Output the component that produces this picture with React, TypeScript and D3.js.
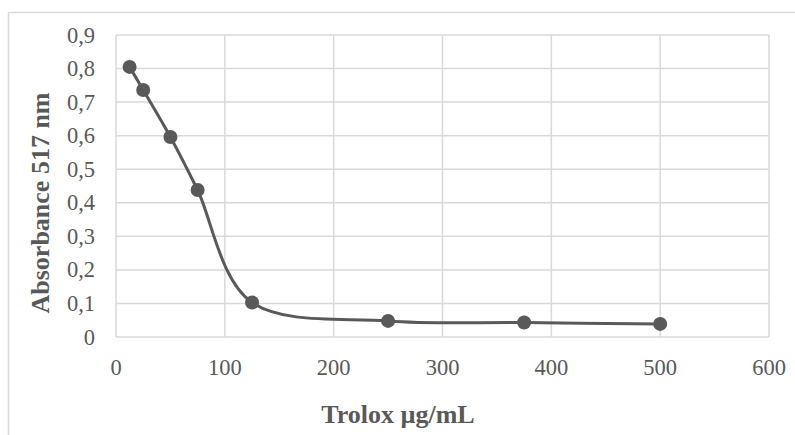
import React from "react";
import * as d3 from "d3";

const concentrations = [12.5, 25, 50, 75, 125, 250, 375, 500];
const absorbance = [0.805, 0.736, 0.596, 0.438, 0.103, 0.048, 0.043, 0.039];
const xTicks = [0, 100, 200, 300, 400, 500, 600];
const yTicks = [0, 0.1, 0.2, 0.3, 0.4, 0.5, 0.6, 0.7, 0.8, 0.9];
const xTitle = "Trolox µg/mL";
const yTitle = "Absorbance 517 nm";

const W = 795;
const H = 435;
const left = 116;
const right = 769;
const top = 35;
const bottom = 337;
const grey = "#595959";
const grid = "#d9d9d9";
const font = "'Liberation Serif', 'Times New Roman', serif";

export default function App() {
  const x = d3.scaleLinear().domain([0, 600]).range([left, right]);
  const y = d3.scaleLinear().domain([0, 0.9]).range([bottom, top]);
  const data = concentrations.map((c, i) => ({ c, a: absorbance[i] }));
  const line = d3
    .line<{ c: number; a: number }>()
    .x((d) => x(d.c))
    .y((d) => y(d.a))
    .curve(d3.curveCardinal.tension(0));
  const fmt = (v: number) => (v === 0 ? "0" : v.toFixed(1).replace(".", ","));

  return (
    <svg
      width={W}
      height={H}
      style={{ position: "absolute", left: 0, top: 0, background: "#fff" }}
    >
      <rect x={0} y={0} width={W} height={H} fill="#fff" />
      <path d={`M8.5,${H} L8.5,12.5 L${W},12.5`} fill="none" stroke={grid} strokeWidth={1.5} />
      {yTicks.map((t) => (
        <line key={"y" + t} x1={left} x2={right} y1={y(t)} y2={y(t)} stroke={grid} strokeWidth={1.5} />
      ))}
      {xTicks.map((t) => (
        <line key={"x" + t} x1={x(t)} x2={x(t)} y1={top} y2={bottom} stroke={grid} strokeWidth={1.5} />
      ))}
      {yTicks.map((t) => (
        <text
          key={"yl" + t}
          x={95}
          y={y(t)}
          textAnchor="end"
          dominantBaseline="central"
          fontFamily={font}
          fontSize={22.5}
          fill={grey}
        >
          {fmt(t)}
        </text>
      ))}
      {xTicks.map((t) => (
        <text
          key={"xl" + t}
          x={x(t)}
          y={367}
          textAnchor="middle"
          dominantBaseline="central"
          fontFamily={font}
          fontSize={22.5}
          fill={grey}
        >
          {t}
        </text>
      ))}
      <path d={line(data) || ""} fill="none" stroke={grey} strokeWidth={3} />
      {data.map((d, i) => (
        <circle key={i} cx={x(d.c)} cy={y(d.a)} r={7} fill={grey} />
      ))}
      <text
        x={398}
        y={423}
        textAnchor="middle"
        fontFamily={font}
        fontSize={26}
        fontWeight="bold"
        fill={grey}
      >
        {xTitle}
      </text>
      <text
        transform={`translate(49,${203}) rotate(-90)`}
        textAnchor="middle"
        fontFamily={font}
        fontSize={26}
        fontWeight="bold"
        fill={grey}
      >
        {yTitle}
      </text>
    </svg>
  );
}
